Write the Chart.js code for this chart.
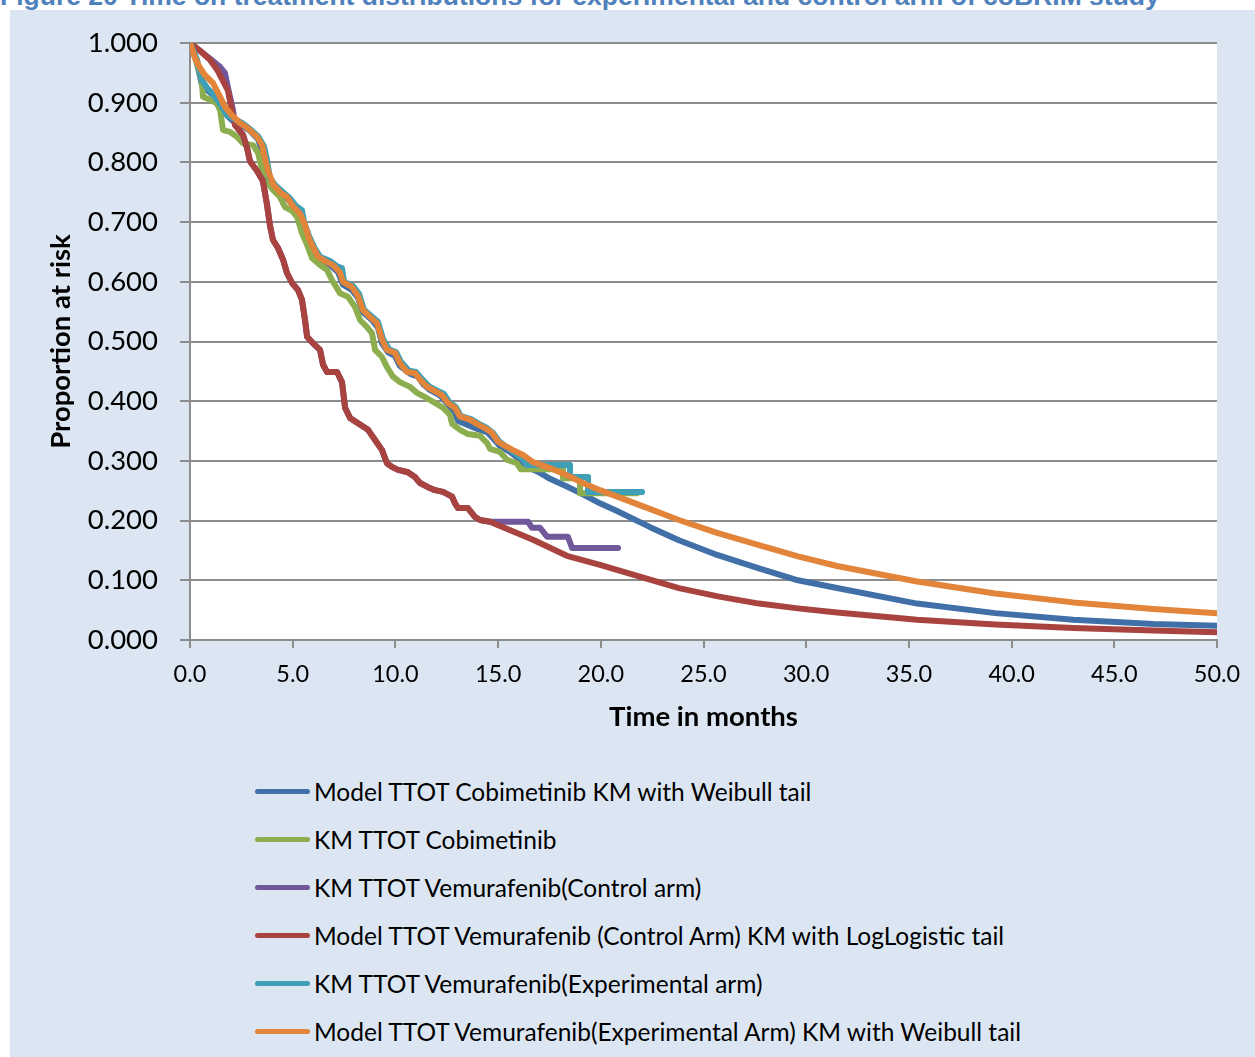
<!DOCTYPE html>
<html>
<head>
<meta charset="utf-8">
<title>Time on treatment distributions</title>
<script src="https://cdn.jsdelivr.net/npm/chart.js@4.4.1/dist/chart.umd.min.js"></script>
<style>
  body { margin: 0; width: 1255px; height: 1057px; position: relative; overflow: hidden; background: #fff; font-family: Lato, sans-serif; }
  #caption { position: absolute; left: 0; top: -17px; white-space: nowrap; font: bold 26.5px/27px "Liberation Sans", Arial, sans-serif; color: #4f81bd; }
  #frame { position: absolute; left: 10px; top: 10px; right: 0; bottom: 0; background: #dce6f2; }
  #chart { position: absolute; left: 10px; top: 10px; }
  #legend { position: absolute; left: 255px; top: 767px; }
  .item { height: 48px; display: flex; align-items: center; font-size: 24.5px; color: #000; }
  .swatch { width: 55px; height: 5px; border-radius: 3px; margin-right: 4px; }
</style>
</head>
<body>
<div id="caption">Figure 20 Time on treatment distributions for experimental and control arm of coBRIM study</div>
<div id="frame"></div>
<canvas id="chart" width="1245" height="740"></canvas>
<div id="legend"></div>
<script>
// months on x, proportion at risk on y
const cobiModelT = [0, 0.34, 0.58, 0.83, 1.12, 1.46, 1.80, 2.04, 2.43, 2.92, 3.31, 3.55, 3.80, 4.14, 4.53, 4.87, 5.21, 5.45, 5.70, 5.99, 6.33, 6.82, 7.21, 7.45, 7.89, 8.18, 8.42, 8.86, 9.15, 9.35, 9.64, 9.98, 10.22, 10.71, 11.10, 11.34, 11.68, 12.17, 12.56, 12.90, 13.05, 13.53, 14.02, 14.46, 14.75, 15.09, 15.58, 16.07, 16.41, 17.04, 17.53, 18.35, 19.13, 19.96, 20.79, 22.40, 23.8, 25.7, 27.7, 29.6, 31.5, 35.4, 39.2, 43.0, 46.9, 50];
const cobiModelS = [1.000, 0.966, 0.930, 0.921, 0.913, 0.891, 0.879, 0.871, 0.864, 0.853, 0.839, 0.816, 0.779, 0.760, 0.747, 0.734, 0.719, 0.700, 0.675, 0.653, 0.638, 0.628, 0.616, 0.595, 0.586, 0.573, 0.549, 0.536, 0.523, 0.497, 0.482, 0.476, 0.459, 0.446, 0.441, 0.429, 0.419, 0.410, 0.395, 0.380, 0.367, 0.360, 0.353, 0.348, 0.338, 0.325, 0.315, 0.302, 0.290, 0.280, 0.270, 0.257, 0.244, 0.229, 0.216, 0.189, 0.167, 0.142, 0.120, 0.100, 0.087, 0.061, 0.045, 0.034, 0.027, 0.024];

const cobiKmT = [0, 0.24, 0.34, 0.58, 0.63, 0.97, 1.31, 1.46, 1.61, 1.95, 2.29, 2.58, 3.07, 3.31, 3.55, 3.80, 4.04, 4.38, 4.63, 4.97, 5.21, 5.45, 5.70, 5.94, 6.33, 6.67, 6.91, 7.30, 7.69, 8.03, 8.28, 8.62, 8.86, 9.01, 9.35, 9.59, 9.88, 10.22, 10.71, 11.05, 11.54, 12.03, 12.32, 12.66, 12.76, 13.15, 13.53, 14.12, 14.46, 14.61, 15.09, 15.43, 15.92, 16.11, 18.16, 18.16, 18.99, 18.99, 21.76];
const cobiKmS = [1.000, 0.980, 0.966, 0.935, 0.910, 0.905, 0.899, 0.888, 0.854, 0.851, 0.843, 0.832, 0.829, 0.816, 0.782, 0.765, 0.754, 0.742, 0.725, 0.719, 0.709, 0.682, 0.662, 0.640, 0.628, 0.620, 0.603, 0.581, 0.575, 0.558, 0.536, 0.524, 0.514, 0.486, 0.474, 0.457, 0.441, 0.432, 0.424, 0.414, 0.405, 0.395, 0.389, 0.377, 0.362, 0.352, 0.345, 0.342, 0.330, 0.320, 0.315, 0.302, 0.296, 0.286, 0.286, 0.271, 0.271, 0.246, 0.246];

const vemCtrlKmT = [0, 0.49, 0.97, 1.46, 1.70, 1.85, 2.09, 2.19, 2.58, 2.78, 2.92, 3.26, 3.55, 3.75, 3.89, 4.04, 4.28, 4.53, 4.72, 4.97, 5.26, 5.45, 5.60, 5.70, 5.99, 6.33, 6.48, 6.67, 7.16, 7.40, 7.55, 7.79, 8.18, 8.67, 9.01, 9.35, 9.59, 9.83, 10.13, 10.61, 10.95, 11.20, 11.59, 11.93, 12.32, 12.76, 12.90, 13.05, 13.53, 13.88, 14.12, 14.61, 16.46, 16.65, 17.04, 17.38, 18.40, 18.60, 20.84];
const vemCtrlKmS = [1.000, 0.987, 0.974, 0.960, 0.950, 0.925, 0.888, 0.863, 0.846, 0.824, 0.802, 0.786, 0.769, 0.729, 0.695, 0.670, 0.657, 0.637, 0.615, 0.598, 0.586, 0.570, 0.536, 0.508, 0.497, 0.486, 0.461, 0.449, 0.449, 0.432, 0.389, 0.372, 0.363, 0.352, 0.335, 0.318, 0.296, 0.290, 0.285, 0.281, 0.273, 0.263, 0.256, 0.251, 0.248, 0.240, 0.229, 0.221, 0.221, 0.206, 0.201, 0.198, 0.198, 0.188, 0.188, 0.173, 0.173, 0.154, 0.154];

const vemCtrlModelT = [0, 0.49, 0.97, 1.36, 1.85, 2.04, 2.19, 2.58, 2.78, 2.92, 3.26, 3.55, 3.75, 3.89, 4.04, 4.28, 4.53, 4.72, 4.97, 5.26, 5.45, 5.60, 5.70, 5.99, 6.33, 6.48, 6.67, 7.16, 7.40, 7.55, 7.79, 8.18, 8.67, 9.01, 9.35, 9.59, 9.83, 10.13, 10.61, 10.95, 11.20, 11.59, 11.93, 12.32, 12.76, 12.90, 13.05, 13.53, 13.88, 14.12, 14.61, 14.95, 16.70, 18.35, 19.96, 21.9, 23.8, 25.7, 27.7, 29.6, 31.5, 35.4, 39.2, 43.0, 46.9, 50];
const vemCtrlModelS = [1.000, 0.987, 0.972, 0.953, 0.920, 0.886, 0.863, 0.846, 0.824, 0.802, 0.786, 0.769, 0.729, 0.695, 0.670, 0.657, 0.637, 0.615, 0.598, 0.586, 0.570, 0.536, 0.508, 0.497, 0.486, 0.461, 0.449, 0.449, 0.432, 0.389, 0.372, 0.363, 0.352, 0.335, 0.318, 0.296, 0.290, 0.285, 0.281, 0.273, 0.263, 0.256, 0.251, 0.248, 0.240, 0.229, 0.221, 0.221, 0.206, 0.201, 0.198, 0.193, 0.168, 0.141, 0.126, 0.106, 0.087, 0.073, 0.061, 0.053, 0.046, 0.034, 0.026, 0.020, 0.016, 0.013];

const vemExpKmT = [0, 0.34, 0.58, 0.83, 1.12, 1.46, 1.80, 2.09, 2.53, 2.92, 3.31, 3.60, 3.75, 3.89, 4.14, 4.53, 4.87, 5.16, 5.45, 5.55, 5.79, 6.09, 6.33, 6.82, 7.16, 7.40, 7.50, 7.94, 8.23, 8.47, 8.81, 9.15, 9.40, 9.69, 10.03, 10.27, 10.66, 11.00, 11.30, 11.64, 12.07, 12.37, 12.61, 12.95, 13.19, 13.68, 14.02, 14.41, 14.75, 15.04, 15.34, 15.73, 16.16, 16.41, 18.50, 18.50, 19.38, 19.38, 22.01];
const vemExpKmS = [1.000, 0.972, 0.938, 0.925, 0.915, 0.898, 0.879, 0.874, 0.866, 0.856, 0.844, 0.827, 0.804, 0.774, 0.762, 0.750, 0.740, 0.727, 0.720, 0.700, 0.677, 0.655, 0.642, 0.635, 0.626, 0.623, 0.600, 0.593, 0.580, 0.553, 0.543, 0.533, 0.504, 0.487, 0.482, 0.466, 0.451, 0.449, 0.437, 0.425, 0.417, 0.412, 0.399, 0.390, 0.375, 0.370, 0.363, 0.356, 0.347, 0.333, 0.325, 0.315, 0.305, 0.293, 0.293, 0.273, 0.273, 0.248, 0.248];

const vemExpModelT = [0, 0.24, 0.49, 0.73, 1.12, 1.46, 1.70, 2.04, 2.43, 2.78, 3.26, 3.51, 3.65, 3.80, 4.04, 4.38, 4.72, 5.01, 5.36, 5.60, 5.79, 5.99, 6.23, 6.67, 6.96, 7.30, 7.45, 7.89, 8.18, 8.42, 8.76, 9.10, 9.35, 9.59, 9.98, 10.22, 10.56, 10.95, 11.20, 11.54, 12.03, 12.27, 12.56, 12.90, 13.15, 13.63, 13.97, 14.36, 14.70, 15.00, 15.24, 15.73, 16.21, 16.70, 17.53, 18.35, 19.13, 19.96, 21.9, 23.8, 25.7, 27.7, 29.6, 31.5, 35.4, 39.2, 43.0, 46.9, 50];
const vemExpModelS = [1.000, 0.975, 0.958, 0.946, 0.933, 0.910, 0.893, 0.879, 0.866, 0.858, 0.843, 0.829, 0.807, 0.786, 0.764, 0.750, 0.742, 0.727, 0.714, 0.695, 0.673, 0.658, 0.642, 0.633, 0.628, 0.616, 0.600, 0.591, 0.576, 0.553, 0.541, 0.531, 0.503, 0.486, 0.481, 0.464, 0.449, 0.447, 0.436, 0.424, 0.415, 0.410, 0.397, 0.389, 0.374, 0.369, 0.362, 0.355, 0.347, 0.332, 0.327, 0.318, 0.310, 0.298, 0.288, 0.276, 0.263, 0.251, 0.226, 0.201, 0.179, 0.159, 0.140, 0.124, 0.098, 0.078, 0.063, 0.052, 0.045];

const xTicks = [0, 5, 10, 15, 20, 25, 30, 35, 40, 45, 50];
const yTicks = [0, 0.1, 0.2, 0.3, 0.4, 0.5, 0.6, 0.7, 0.8, 0.9, 1.0];

const SERIES = [
  { label: 'Model TTOT Cobimetinib KM with Weibull tail', t: cobiModelT, s: cobiModelS, color: '#4170a8' },
  { label: 'KM TTOT Cobimetinib', t: cobiKmT, s: cobiKmS, color: '#8dae4e' },
  { label: 'KM TTOT Vemurafenib(Control arm)', t: vemCtrlKmT, s: vemCtrlKmS, color: '#71589a' },
  { label: 'Model TTOT Vemurafenib (Control Arm) KM with LogLogistic tail', t: vemCtrlModelT, s: vemCtrlModelS, color: '#a9433f' },
  { label: 'KM TTOT Vemurafenib(Experimental arm)', t: vemExpKmT, s: vemExpKmS, color: '#3f9fb7' },
  { label: 'Model TTOT Vemurafenib(Experimental Arm) KM with Weibull tail', t: vemExpModelT, s: vemExpModelS, color: '#e2843a' }
];

const GRID = '#8c8c8c';

// white plot area on the blue page
const plotBg = {
  id: 'plotBg',
  beforeDraw(chart) {
    const { ctx, chartArea: a } = chart;
    ctx.save();
    ctx.fillStyle = '#fff';
    ctx.fillRect(a.left, a.top, a.right - a.left, a.bottom - a.top);
    ctx.restore();
  }
};

const datasets = SERIES.map((ser, i) => ({
  label: ser.label,
  data: ser.t.map((t, j) => ({ x: t, y: ser.s[j] })),
  borderColor: ser.color,
  backgroundColor: ser.color,
  borderWidth: 6,
  pointRadius: 0,
  tension: 0,
  fill: false,
  borderCapStyle: 'round',
  borderJoinStyle: 'round',
  order: SERIES.length - i   // later series drawn on top, like Excel
}));

new Chart(document.getElementById('chart'), {
  type: 'line',
  data: { datasets },
  options: {
    responsive: false,
    animation: false,
    events: [],
    layout: { padding: { left: 0, top: 33, right: 38, bottom: 0 } },
    plugins: { legend: { display: false }, tooltip: { enabled: false } },
    scales: {
      x: {
        type: 'linear',
        min: 0,
        max: 50,
        afterFit: s => { s.height = 110; },
        afterBuildTicks: s => { s.ticks = xTicks.map(v => ({ value: v })); },
        ticks: { callback: v => v.toFixed(1), color: '#000', padding: 12, maxRotation: 0, font: { family: 'Lato', size: 23.5 } },
        grid: { drawOnChartArea: false, drawTicks: true, tickLength: 8, color: GRID, lineWidth: 2 },
        border: { color: GRID, width: 2 },
        title: { display: true, text: 'Time in months', color: '#000', padding: { top: 0, bottom: 16 }, font: { family: 'Lato', size: 27.5, weight: 'bold' } }
      },
      y: {
        min: 0,
        max: 1,
        // fixed width, and no extra room above the top label
        afterFit: s => { s.width = 180; s.paddingTop = 0; s.paddingBottom = 0; },
        afterBuildTicks: s => { s.ticks = yTicks.map(v => ({ value: v })); },
        ticks: { callback: v => v.toFixed(3), color: '#000', padding: 22, font: { family: 'Lato', size: 27.5 } },
        grid: { color: GRID, lineWidth: 2, tickLength: 10 },
        border: { color: GRID, width: 2 },
        title: { display: true, text: 'Proportion at risk', color: '#000', padding: { top: 35, bottom: 0 }, font: { family: 'Lato', size: 27.5, weight: 'bold' } }
      }
    }
  },
  plugins: [plotBg]
});

// legend: one entry per row under the plot
const legend = document.getElementById('legend');
SERIES.forEach(ser => {
  const row = document.createElement('div');
  row.className = 'item';
  const sw = document.createElement('span');
  sw.className = 'swatch';
  sw.style.background = ser.color;
  const txt = document.createElement('span');
  txt.textContent = ser.label;
  row.appendChild(sw);
  row.appendChild(txt);
  legend.appendChild(row);
});
</script>
</body>
</html>
